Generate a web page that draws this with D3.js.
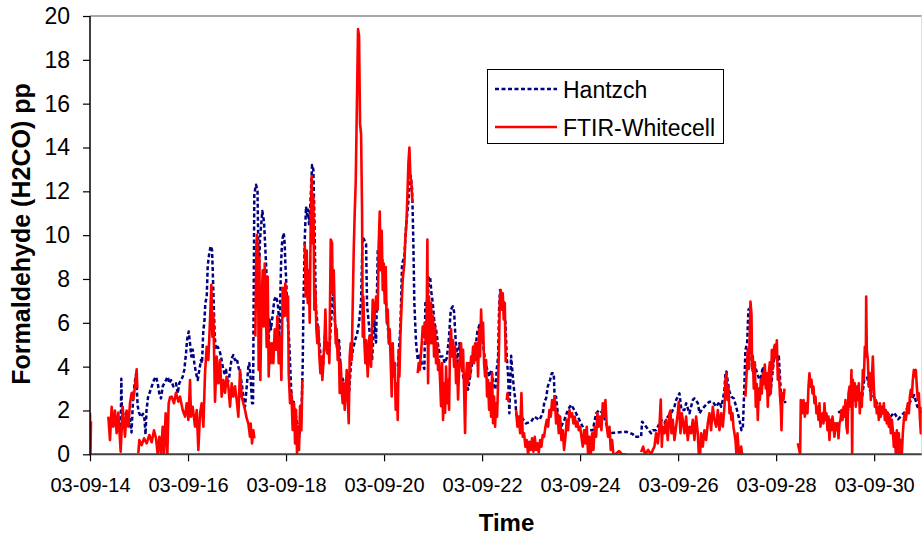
<!DOCTYPE html>
<html><head><meta charset="utf-8">
<script src="https://cdn.jsdelivr.net/npm/d3@7"></script>
<style>
body{margin:0;background:#fff;}
svg{display:block;font-family:"Liberation Sans",Arial,sans-serif;}
</style></head><body>
<svg id="chart" width="922" height="538"></svg>
<script>
// ---- data (day of September 2003, ppb) ----
const yTicks = [0,2,4,6,8,10,12,14,16,18,20];
const xTickDays = [14,16,18,20,22,24,26,28,30];
const seriesNames = ["Hantzch","FTIR-Whitecell"];

const hantzsch = [
[14.627,1.26],[14.639,3.45],[14.653,1.7],[14.694,1.5],[14.735,1.9],[14.776,1.2],[14.816,1.6],[14.847,1.0],[14.878,2.5],[14.908,3.2],[14.939,3.65],[14.973,2.2],[15.000,1.9],[15.041,1.7],[15.082,1.85],[15.112,1.6],[15.133,0.9],[15.153,2.0],[15.184,2.6],[15.245,3.0],[15.306,3.4],[15.347,3.54],[15.382,3.24],[15.414,2.78],[15.449,2.55],[15.484,3.1],[15.551,3.39],[15.586,3.54],[15.618,3.24],[15.653,3.39],[15.700,3.1],[15.755,3.24],[15.790,2.78],[15.822,3.24],[15.892,3.54],[15.924,3.85],[15.959,4.6],[15.980,5.2],[16.014,5.6],[16.041,5.07],[16.067,4.46],[16.096,4.77],[16.129,4.16],[16.163,3.7],[16.198,3.39],[16.231,3.85],[16.265,4.3],[16.286,4.16],[16.312,5.67],[16.333,6.0],[16.353,6.9],[16.382,7.2],[16.402,8.6],[16.435,9.2],[16.463,9.5],[16.490,9.33],[16.504,8.4],[16.524,6.9],[16.545,5.37],[16.571,4.77],[16.606,4.9],[16.639,4.77],[16.673,4.46],[16.708,4.0],[16.741,3.7],[16.776,3.85],[16.810,3.24],[16.843,3.54],[16.857,3.85],[16.892,4.38],[16.924,4.53],[16.959,4.3],[16.994,4.38],[17.027,4.0],[17.061,3.7],[17.096,3.24],[17.129,2.63],[17.163,2.17],[17.198,3.1],[17.231,4.0],[17.251,4.16],[17.280,3.39],[17.306,2.33],[17.327,2.33],[17.353,11.9],[17.388,12.3],[17.418,12.0],[17.443,8.0],[17.469,9.8],[17.516,11.1],[17.551,10.6],[17.592,8.7],[17.618,7.35],[17.633,5.8],[17.647,5.07],[17.659,6.15],[17.694,5.7],[17.761,7.05],[17.796,7.2],[17.831,6.9],[17.851,6.3],[17.863,5.37],[17.878,6.6],[17.898,8.7],[17.918,9.63],[17.933,9.9],[17.953,10.1],[17.973,9.6],[17.986,8.7],[18.000,8.1],[18.020,6.9],[18.041,5.83],[18.067,5.07],[18.088,3.85],[18.108,2.8],[18.129,2.33],[18.149,2.5],[18.169,2.03],[18.204,1.72],[18.239,1.26],[18.271,0.8],[18.300,1.42],[18.320,2.33],[18.341,4.16],[18.353,6.6],[18.367,8.1],[18.382,9.8],[18.394,10.55],[18.408,11.3],[18.429,10.9],[18.449,11.16],[18.469,10.5],[18.490,11.16],[18.510,12.1],[18.531,13.2],[18.557,13.0],[18.578,10.9],[18.598,8.1],[18.612,6.6],[18.647,5.83],[18.680,5.07],[18.714,4.3],[18.755,4.0],[18.796,5.5],[18.837,5.0],[18.878,4.6],[18.918,6.0],[18.959,7.5],[19.000,6.0],[19.041,4.8],[19.082,5.2],[19.122,3.6],[19.163,3.4],[19.204,3.0],[19.245,3.5],[19.286,2.8],[19.327,4.2],[19.367,4.8],[19.408,5.2],[19.449,5.5],[19.490,6.0],[19.531,7.0],[19.561,9.9],[19.592,9.8],[19.633,9.6],[19.653,6.8],[19.700,5.7],[19.755,4.3],[19.802,6.1],[19.837,5.1],[19.871,9.3],[19.904,9.5],[19.939,8.7],[19.973,8.85],[20.006,7.6],[20.041,6.9],[20.076,5.83],[20.108,5.07],[20.163,4.3],[20.218,3.9],[20.280,4.0],[20.312,5.07],[20.333,5.83],[20.347,6.9],[20.367,8.7],[20.414,9.0],[20.449,10.4],[20.484,11.2],[20.516,12.1],[20.545,12.7],[20.571,12.1],[20.586,10.9],[20.598,9.6],[20.618,6.9],[20.653,5.07],[20.688,4.3],[20.720,4.6],[20.776,4.1],[20.822,3.9],[20.843,6.9],[20.892,6.6],[20.912,8.1],[20.939,8.1],[20.965,7.4],[20.994,6.9],[21.027,6.0],[21.061,5.7],[21.096,5.07],[21.143,4.46],[21.198,4.46],[21.239,4.16],[21.280,4.4],[21.320,5.2],[21.361,6.6],[21.402,6.75],[21.429,6.5],[21.455,5.4],[21.496,4.2],[21.537,5.07],[21.578,4.16],[21.618,3.5],[21.673,3.24],[21.714,2.95],[21.755,3.55],[21.796,4.16],[21.851,4.6],[21.904,5.6],[21.945,5.9],[21.986,5.7],[22.027,4.9],[22.067,4.16],[22.108,3.85],[22.149,3.55],[22.190,3.85],[22.231,3.24],[22.271,2.95],[22.300,3.9],[22.327,4.46],[22.347,6.6],[22.367,7.5],[22.394,7.3],[22.422,7.2],[22.449,6.6],[22.476,6.0],[22.504,4.4],[22.531,3.6],[22.557,1.87],[22.592,4.5],[22.633,3.4],[22.659,2.8],[22.680,2.5],[22.694,1.9],[22.729,1.57],[22.796,1.72],[22.898,1.41],[23.000,1.49],[23.067,1.72],[23.169,1.57],[23.239,1.87],[23.271,2.4],[23.306,2.55],[23.341,3.1],[23.388,3.4],[23.422,3.7],[23.463,3.7],[23.484,2.33],[23.510,2.63],[23.545,1.87],[23.612,1.26],[23.680,1.57],[23.749,2.02],[23.816,2.26],[23.884,2.02],[23.953,1.72],[24.020,1.41],[24.088,1.1],[24.190,1.1],[24.259,1.1],[24.327,1.87],[24.394,2.02],[24.463,1.87],[24.531,1.41],[24.598,0.96],[24.735,0.99],[24.939,1.03],[25.076,0.92],[25.108,0.8],[25.245,0.8],[25.265,1.49],[25.347,1.26],[25.449,0.96],[25.484,1.1],[25.551,1.1],[25.586,1.26],[25.653,1.57],[25.720,1.41],[25.790,1.72],[25.857,1.87],[25.924,2.17],[25.959,2.48],[26.027,2.78],[26.067,2.02],[26.129,2.02],[26.163,2.33],[26.231,1.87],[26.300,2.48],[26.333,2.55],[26.404,2.33],[26.435,1.87],[26.504,2.1],[26.571,2.26],[26.639,2.4],[26.708,2.4],[26.776,2.17],[26.843,2.4],[26.878,2.17],[26.912,2.48],[26.945,2.94],[26.965,3.7],[26.986,3.78],[27.014,3.3],[27.047,2.86],[27.088,2.63],[27.137,2.55],[27.184,2.17],[27.218,1.87],[27.251,1.57],[27.292,1.1],[27.320,1.2],[27.347,2.78],[27.373,4.76],[27.408,5.07],[27.435,6.6],[27.469,6.67],[27.490,4.76],[27.510,3.9],[27.537,3.7],[27.557,4.16],[27.592,3.85],[27.659,3.4],[27.694,3.55],[27.729,4.0],[27.761,3.7],[27.796,3.4],[27.831,2.94],[27.863,2.63],[27.898,3.1],[27.933,3.9],[27.965,4.46],[28.000,4.76],[28.035,4.3],[28.055,4.46],[28.082,3.4],[28.102,2.48],[28.122,2.78],[28.149,2.63],[28.190,2.33],[28.200,null],
[29.265,1.9],[29.347,2.0],[29.408,1.8],[29.510,2.2],[29.612,2.5],[29.673,2.7],[29.755,2.6],[29.796,3.4],[29.857,3.5],[29.918,2.9],[30.000,2.6],[30.082,2.2],[30.163,1.9],[30.245,2.0],[30.327,1.7],[30.408,1.9],[30.490,1.6],[30.571,1.8],[30.653,2.0],[30.735,2.4],[30.816,2.7],[30.878,2.2],[30.959,1.9]
];

const ftir = [
[14.000,1.9],[14.010,0],[14.020,1.5],[14.030,null],
[14.374,1.72],[14.408,0.65],[14.442,2.17],[14.476,1.26],[14.510,2.0],[14.544,0.96],[14.578,1.9],[14.626,0.12],[14.667,2.17],[14.714,0.8],[14.748,2.0],[14.782,1.26],[14.816,2.33],[14.850,2.8],[14.884,2.5],[14.918,3.1],[14.952,3.88],[14.966,3.0],[14.976,null],
[14.986,0.05],[15.007,0.65],[15.054,0.42],[15.102,0.73],[15.156,0.5],[15.211,0.88],[15.259,0.55],[15.306,1.1],[15.347,0.73],[15.381,0],[15.415,0.8],[15.449,0],[15.483,1.26],[15.510,0],[15.544,1.87],[15.578,0],[15.605,2.33],[15.633,2.6],[15.667,2.63],[15.714,2.33],[15.755,2.81],[15.803,2.4],[15.837,2.63],[15.891,2.02],[15.939,1.72],[15.973,2.33],[16.007,1.57],[16.041,3.39],[16.061,1.72],[16.095,2.17],[16.143,1.26],[16.177,2.02],[16.211,0.2],[16.245,1.87],[16.279,2.33],[16.313,1.26],[16.347,3.7],[16.381,4.91],[16.415,4.3],[16.449,6.13],[16.476,7.73],[16.497,5.37],[16.517,6.44],[16.551,2.4],[16.585,4.46],[16.619,3.24],[16.653,4.3],[16.687,2.63],[16.721,3.39],[16.755,2.8],[16.789,3.54],[16.823,3.1],[16.857,2.17],[16.891,3.24],[16.925,2.63],[16.959,3.1],[16.993,2.48],[17.027,1.72],[17.061,3.85],[17.095,2.63],[17.129,2.33],[17.163,2.02],[17.197,1.65],[17.231,1.4],[17.265,0.8],[17.279,1.4],[17.306,0.5],[17.333,1.1],[17.354,0.73],[17.364,null],
[17.374,5.37],[17.395,9.63],[17.408,10.0],[17.429,8.7],[17.442,3.85],[17.456,9.0],[17.476,3.39],[17.497,6.6],[17.524,8.4],[17.544,5.83],[17.565,8.7],[17.585,6.9],[17.605,4.9],[17.626,8.1],[17.646,3.55],[17.667,5.07],[17.687,4.16],[17.714,5.07],[17.741,4.16],[17.769,5.7],[17.796,4.77],[17.823,6.3],[17.850,4.16],[17.878,5.37],[17.905,3.39],[17.932,7.6],[17.959,6.3],[17.986,7.8],[18.014,6.3],[18.041,7.2],[18.054,3.7],[18.082,2.33],[18.109,2.8],[18.136,1.11],[18.163,2.33],[18.184,0.5],[18.204,2.03],[18.224,0.05],[18.245,1.26],[18.265,0.2],[18.286,2.2],[18.313,1.1],[18.333,3.39],[18.357,null],
[18.381,9.63],[18.401,7.2],[18.422,9.3],[18.442,6.9],[18.463,8.4],[18.483,6.0],[18.503,10.55],[18.524,12.7],[18.544,9.63],[18.558,11.8],[18.578,6.6],[18.599,7.5],[18.619,5.7],[18.639,5.07],[18.660,5.83],[18.680,4.46],[18.701,3.7],[18.721,4.46],[18.741,3.39],[18.762,4.16],[18.782,5.07],[18.803,6.6],[18.823,4.9],[18.844,4.6],[18.864,5.07],[18.884,4.16],[18.912,9.8],[18.939,9.63],[18.952,7.35],[18.973,8.4],[18.993,6.6],[19.014,5.07],[19.034,5.7],[19.054,4.3],[19.075,5.07],[19.095,2.8],[19.116,4.16],[19.136,2.95],[19.156,2.33],[19.177,3.24],[19.197,2.03],[19.218,2.8],[19.238,3.85],[19.259,2.64],[19.279,1.42],[19.299,4.46],[19.320,5.07],[19.340,4.3],[19.381,9.3],[19.401,11.0],[19.422,12.45],[19.442,15.4],[19.469,19.4],[19.490,19.1],[19.510,15.1],[19.531,14.6],[19.551,11.16],[19.565,5.37],[19.578,7.2],[19.599,5.07],[19.619,4.16],[19.639,5.2],[19.667,3.55],[19.701,5.37],[19.735,4.0],[19.769,7.05],[19.803,6.15],[19.837,7.2],[19.871,6.6],[19.891,9.63],[19.912,11.08],[19.932,8.4],[19.952,10.2],[19.973,7.5],[19.993,8.7],[20.014,6.9],[20.034,8.55],[20.054,6.0],[20.075,6.6],[20.095,5.07],[20.116,5.7],[20.136,4.16],[20.156,2.64],[20.177,5.07],[20.197,3.55],[20.218,4.16],[20.238,2.03],[20.259,3.24],[20.279,1.57],[20.299,4.77],[20.313,3.55],[20.333,5.37],[20.354,6.6],[20.381,8.0],[20.415,8.7],[20.435,9.9],[20.456,10.5],[20.476,11.8],[20.497,13.3],[20.517,14.0],[20.537,12.7],[20.558,12.4],[20.578,11.5],[20.600,null],
[20.687,3.7],[20.707,4.16],[20.728,3.85],[20.748,4.46],[20.769,5.07],[20.789,5.83],[20.810,5.37],[20.830,6.0],[20.850,5.07],[20.871,6.6],[20.884,9.8],[20.898,3.24],[20.918,7.2],[20.939,5.07],[20.959,6.9],[20.980,5.07],[21.000,6.3],[21.020,4.46],[21.041,5.83],[21.061,4.16],[21.082,5.07],[21.102,3.85],[21.122,4.3],[21.143,3.39],[21.163,2.2],[21.184,4.16],[21.204,1.57],[21.224,3.24],[21.245,1.9],[21.265,4.0],[21.286,2.33],[21.306,3.39],[21.327,2.03],[21.347,5.07],[21.367,5.7],[21.388,4.46],[21.408,5.2],[21.429,4.0],[21.449,4.9],[21.469,3.24],[21.490,4.16],[21.510,2.5],[21.531,3.85],[21.551,4.46],[21.571,5.07],[21.592,3.85],[21.612,4.77],[21.633,2.95],[21.653,0.97],[21.673,3.55],[21.694,4.16],[21.714,3.24],[21.735,4.16],[21.755,3.55],[21.776,4.46],[21.796,4.16],[21.816,4.9],[21.837,4.16],[21.857,5.07],[21.878,4.3],[21.898,5.07],[21.918,3.55],[21.939,5.7],[21.959,4.46],[21.980,6.6],[22.000,5.2],[22.020,6.0],[22.041,4.16],[22.061,3.55],[22.082,4.3],[22.102,2.64],[22.122,3.39],[22.143,2.03],[22.163,3.24],[22.184,1.72],[22.204,3.7],[22.224,1.42],[22.245,2.64],[22.265,1.26],[22.286,2.33],[22.306,1.72],[22.327,3.24],[22.347,5.07],[22.361,7.05],[22.381,7.5],[22.401,6.6],[22.422,7.35],[22.442,6.15],[22.463,6.9],[22.483,4.2],[22.495,null],
[22.503,2.47],[22.517,2.78],[22.544,2.4],[22.560,null],
[22.694,2.02],[22.721,1.26],[22.748,1.72],[22.776,0.96],[22.803,2.8],[22.830,0.8],[22.857,0.96],[22.884,0.35],[22.912,0.65],[22.939,0],[22.966,0.57],[22.993,0.2],[23.020,0.73],[23.048,0.12],[23.075,0.8],[23.102,0.2],[23.129,0.5],[23.156,0.08],[23.184,0.65],[23.211,0.35],[23.238,0.88],[23.265,0.8],[23.293,1.26],[23.320,1.57],[23.347,1.26],[23.374,2.02],[23.401,1.72],[23.429,2.48],[23.456,2.02],[23.483,2.63],[23.510,1.41],[23.537,1.87],[23.565,0.96],[23.592,1.72],[23.619,0.65],[23.646,1.1],[23.673,0.2],[23.701,0.8],[23.728,1.57],[23.755,1.1],[23.782,2.02],[23.810,1.72],[23.837,1.87],[23.864,1.41],[23.891,1.72],[23.918,1.26],[23.946,1.49],[23.973,1.1],[24.000,1.26],[24.027,0.8],[24.054,0.35],[24.082,1.1],[24.109,0.5],[24.136,1.26],[24.163,0],[24.190,0.8],[24.218,0],[24.245,0.96],[24.272,0.2],[24.299,1.26],[24.327,0.8],[24.354,1.87],[24.381,1.26],[24.408,1.72],[24.435,1.1],[24.463,2.33],[24.490,1.72],[24.517,2.48],[24.544,1.26],[24.571,0.8],[24.599,1.26],[24.626,0.2],[24.653,0.65],[24.680,0],[24.721,0],[24.796,0.15],[24.857,0],[24.939,0],[24.950,null],
[25.245,0.1],[25.286,0.35],[25.327,0],[25.388,0.2],[25.449,0],[25.483,0.2],[25.517,0.35],[25.551,0.96],[25.585,0.5],[25.619,1.26],[25.646,2.5],[25.667,0.35],[25.687,1.26],[25.721,0.96],[25.755,1.57],[25.789,0.65],[25.823,1.87],[25.844,2.0],[25.864,0.96],[25.891,1.57],[25.925,0.65],[25.959,1.26],[25.993,1.87],[26.014,2.4],[26.048,0.96],[26.075,1.87],[26.095,1.57],[26.129,0.96],[26.163,1.72],[26.197,0.65],[26.231,1.26],[26.265,0.96],[26.299,1.57],[26.333,0.65],[26.367,1.72],[26.401,0.96],[26.422,0],[26.449,0],[26.469,0.96],[26.503,0.35],[26.537,1.1],[26.571,0.65],[26.605,1.41],[26.639,1.87],[26.673,1.1],[26.707,2.17],[26.741,1.57],[26.776,1.26],[26.810,2.02],[26.844,1.1],[26.878,1.87],[26.912,1.26],[26.946,2.17],[26.966,3.4],[26.986,3.7],[27.007,2.48],[27.027,3.09],[27.048,1.87],[27.068,2.17],[27.088,1.57],[27.109,1.87],[27.129,1.26],[27.149,0.96],[27.170,0.65],[27.190,0],[27.211,0.96],[27.231,0.35],[27.252,0],[27.286,0.35],[27.306,0],[27.333,0],[27.350,null],
[27.374,2.63],[27.401,3.9],[27.422,4.8],[27.442,3.9],[27.463,5.63],[27.476,6.97],[27.497,6.4],[27.510,3.9],[27.524,4.5],[27.544,3.0],[27.565,4.2],[27.585,2.17],[27.605,3.2],[27.626,1.57],[27.646,3.0],[27.667,2.48],[27.687,3.4],[27.707,2.78],[27.728,3.7],[27.748,3.2],[27.769,4.1],[27.789,3.0],[27.810,3.7],[27.830,2.17],[27.850,3.7],[27.871,4.2],[27.891,2.78],[27.912,4.76],[27.932,3.9],[27.952,4.8],[27.973,5.0],[27.993,4.4],[28.014,5.2],[28.034,3.4],[28.054,3.9],[28.075,2.78],[28.095,2.17],[28.109,1.1],[28.129,2.78],[28.150,2.48],[28.170,3.0],[28.190,null],
[28.442,0.5],[28.490,0],[28.503,2.48],[28.531,1.87],[28.558,2.48],[28.585,1.72],[28.612,2.33],[28.639,1.87],[28.660,3.09],[28.680,3.7],[28.701,3.09],[28.721,3.4],[28.741,2.78],[28.762,3.09],[28.782,2.33],[28.803,2.63],[28.823,1.87],[28.844,2.17],[28.864,1.57],[28.884,2.33],[28.905,1.26],[28.925,1.72],[28.946,1.87],[28.966,1.41],[28.986,2.33],[29.007,1.57],[29.027,1.87],[29.048,1.1],[29.068,1.72],[29.088,0.65],[29.109,1.57],[29.129,1.1],[29.150,1.72],[29.170,1.26],[29.190,0.8],[29.211,1.41],[29.231,1.1],[29.252,1.41],[29.272,0.73],[29.292,1.41],[29.313,1.57],[29.333,2.02],[29.354,1.57],[29.374,2.17],[29.395,1.72],[29.415,2.48],[29.435,1.26],[29.456,0.96],[29.476,2.78],[29.497,3.09],[29.517,2.17],[29.537,3.85],[29.551,0],[29.565,3.4],[29.585,2.48],[29.605,3.24],[29.626,2.17],[29.646,3.09],[29.667,2.48],[29.687,3.24],[29.707,1.87],[29.728,2.78],[29.748,2.17],[29.769,3.85],[29.789,3.4],[29.810,4.91],[29.830,4.46],[29.837,7.2],[29.850,4.76],[29.871,4.3],[29.891,3.09],[29.912,3.7],[29.932,2.48],[29.952,3.4],[29.973,4.46],[29.993,3.09],[30.014,2.17],[30.034,2.48],[30.054,1.87],[30.075,2.17],[30.095,1.57],[30.116,2.33],[30.136,1.72],[30.156,2.17],[30.177,1.87],[30.197,2.33],[30.218,1.57],[30.238,2.02],[30.258,1.41],[30.279,1.87],[30.299,1.26],[30.320,1.72],[30.340,0.96],[30.361,1.57],[30.381,1.1],[30.401,0.35],[30.422,0.96],[30.442,0],[30.463,1.1],[30.483,0],[30.503,0.96],[30.524,0],[30.544,0.65],[30.565,0],[30.585,0.96],[30.605,1.57],[30.626,1.87],[30.646,1.57],[30.667,2.02],[30.687,2.33],[30.707,1.87],[30.728,2.63],[30.748,2.94],[30.769,2.63],[30.789,3.4],[30.810,3.85],[30.830,3.55],[30.850,3.85],[30.871,3.09],[30.891,2.48],[30.912,2.78],[30.932,1.72],[30.952,0.96],[30.966,2.17]
];

// ---- layout ----
const L = 90, T = 16, R = 921.7, B = 454.3;
const toDate = d => new Date(Date.UTC(2003, 7, 31) + d * 864e5);

const svg = d3.select("#chart");
const x = d3.scaleUtc().domain([toDate(14), toDate(30.97)]).range([L, R]);
const y = d3.scaleLinear().domain([0, 20]).range([B, T]);

svg.append("defs").append("clipPath").attr("id","plotclip")
  .append("rect").attr("x", L).attr("y", T - 2).attr("width", R - L).attr("height", B - T + 2);

// plot frame (top and right)
svg.append("line").attr("x1", L).attr("x2", R).attr("y1", T).attr("y2", T)
  .attr("stroke", "#8a8a8a").attr("stroke-width", 1.5);
svg.append("line").attr("x1", R).attr("x2", R).attr("y1", T).attr("y2", B)
  .attr("stroke", "#d8d8d8").attr("stroke-width", 1);

const line = d3.line()
  .defined(d => d[1] !== null)
  .x(d => x(toDate(d[0])))
  .y(d => y(d[1]));

const g = svg.append("g").attr("clip-path", "url(#plotclip)");
g.append("path").datum(hantzsch).attr("d", line)
  .attr("fill", "none").attr("stroke", "#000080").attr("stroke-width", 2.5)
  .attr("stroke-dasharray", "4,2.5").attr("stroke-linejoin", "round");
g.append("path").datum(ftir).attr("d", line)
  .attr("fill", "none").attr("stroke", "#ff0000").attr("stroke-width", 2.6)
  .attr("stroke-linejoin", "round");

// axes
const fmt = d3.utcFormat("%y-%m-%d");
const xAxis = d3.axisBottom(x).tickValues(xTickDays.map(toDate)).tickFormat(fmt)
  .tickSize(7).tickPadding(17);
const gx = svg.append("g").attr("transform", `translate(0,${B})`).call(xAxis);
gx.select(".domain").remove();
gx.selectAll(".tick line").attr("stroke", "#000").attr("stroke-width", 1.2);
gx.selectAll(".tick text").attr("font-size", 20).attr("font-family", "Liberation Sans, Arial, sans-serif").attr("fill", "#000");

const yAxis = d3.axisLeft(y).tickValues(yTicks).tickSize(7).tickPadding(13);
const gy = svg.append("g").attr("transform", `translate(${L},0)`).call(yAxis);
gy.select(".domain").remove();
gy.selectAll(".tick line").attr("stroke", "#000").attr("stroke-width", 1.2);
gy.selectAll(".tick text").attr("font-size", 23).attr("font-family", "Liberation Sans, Arial, sans-serif").attr("fill", "#000");

svg.append("line").attr("x1", L).attr("x2", R).attr("y1", B).attr("y2", B)
  .attr("stroke", "#404040").attr("stroke-width", 2);
svg.append("line").attr("x1", L).attr("x2", L).attr("y1", T).attr("y2", B + 1)
  .attr("stroke", "#000").attr("stroke-width", 1.5);

// axis titles
svg.append("text").attr("x", 506.5).attr("y", 531).attr("text-anchor", "middle")
  .attr("font-size", 24).attr("font-weight", "bold").text("Time");
svg.append("text").attr("transform", "translate(30,234) rotate(-90)").attr("text-anchor", "middle")
  .attr("font-size", 25).attr("font-weight", "bold").text("Formaldehyde (H2CO) pp");

// legend
const lg = svg.append("g");
lg.append("rect").attr("x", 487.5).attr("y", 69.5).attr("width", 236).attr("height", 74)
  .attr("fill", "#fff").attr("stroke", "#000").attr("stroke-width", 1);
const legendStyles = [
  {color: "#000080", dash: "4,2.5", y: 89},
  {color: "#ff0000", dash: null, y: 127}
];
seriesNames.forEach((name, i) => {
  const s = legendStyles[i];
  lg.append("line").attr("x1", 495).attr("x2", 557).attr("y1", s.y).attr("y2", s.y)
    .attr("stroke", s.color).attr("stroke-width", 2.4)
    .attr("stroke-dasharray", s.dash);
  lg.append("text").attr("x", 563).attr("y", s.y + 8.5).attr("font-size", 23).text(name);
});
</script>
</body></html>
